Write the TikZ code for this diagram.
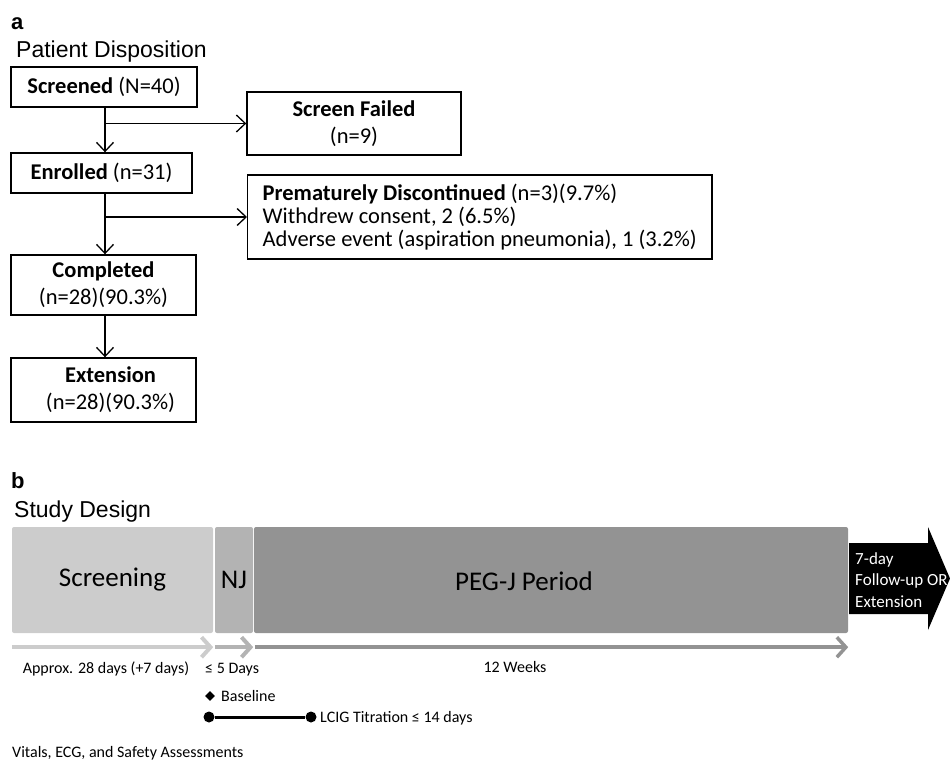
\documentclass[tikz,border=0pt]{standalone}
\usepackage{fontspec}
\setmainfont{Carlito}
\newfontfamily\arialfont{Liberation Sans}
\usetikzlibrary{arrows.meta,shapes.geometric}
\definecolor{scrgray}{HTML}{CCCCCC}
\definecolor{njgray}{HTML}{B3B3B3}
\definecolor{peggray}{HTML}{939393}
\newcommand{\boxfont}{\fontsize{22.5}{27}\selectfont}
\newcommand{\bandfont}{\fontsize{27}{30}\selectfont}
\newcommand{\smallfont}{\fontsize{16}{19}\selectfont}
\begin{document}
\begin{tikzpicture}[x=1pt,y=-1pt,
  box/.style={draw, line width=1.4pt, inner sep=0pt, font=\boxfont, align=center},
  flow/.style={line width=1.3pt, -{Straight Barb[length=9pt,width=17pt,line width=1.3pt]}},
  band/.style={inner sep=0pt, rounded corners=2pt, font=\bandfont},
  gline/.style={line width=4pt, -{Straight Barb[length=9pt,width=20pt]}},
  small/.style={font=\smallfont, inner sep=0pt},
  panel/.style={inner sep=0pt, font={\arialfont\bfseries\fontsize{22}{26}\selectfont}},
  title/.style={inner sep=0pt, font={\arialfont\fontsize{23}{27}\selectfont}},
]
\useasboundingbox (0,0) rectangle (950,760);

% ---------- panel a ----------
\node[panel, anchor=base west] (la) at (11,30) {a};
\node[title, anchor=base west] (pdt) at (16,58) {Patient Disposition};

\node[box, minimum width=186, minimum height=40] (scr) at (104,87) {\textbf{Screened} (N=40)};
\node[box, minimum width=214, minimum height=63] (sf) at (354,123.5) {\textbf{Screen Failed}\\(n=9)};
\node[box, minimum width=181, minimum height=40] (enr) at (101.5,173) {\textbf{Enrolled} (n=31)};
\node[box, minimum height=84, inner xsep=15pt, align=left, anchor=west,
      font=\fontsize{22.5}{23}\selectfont] (pdc) at (247,217)
  {\textbf{Prematurely Discontinued} (n=3)(9.7\%)\\Withdrew consent, 2 (6.5\%)\\Adverse event (aspiration pneumonia), 1 (3.2\%)};
\node[box, minimum width=185, minimum height=60] (comp) at (103.5,285) {\textbf{Completed}\\(n=28)(90.3\%)};
\node[box, minimum width=185, minimum height=64] (ext) at (103.5,390)
  {\hspace*{14pt}\textbf{Extension}\\\hspace*{14pt}(n=28)(90.3\%)};

\coordinate (vx) at (105,0);
\draw[flow] (vx |- scr.south) -- (vx |- enr.north);
\draw[flow] (vx |- sf.west) -- (sf.west);
\draw[flow] (vx |- enr.south) -- (vx |- comp.north);
\draw[flow] (vx |- pdc.west) -- (pdc.west);
\draw[flow] (vx |- comp.south) -- (vx |- ext.north);

% ---------- panel b ----------
\node[panel, anchor=base west] (lb) at (11,488) {b};
\node[title, anchor=base west] (sdt) at (14,517) {Study Design};

\node[band, fill=scrgray, minimum width=201, minimum height=106] (scrn) at (112.5,580) {Screening};
\node[band, fill=njgray, minimum width=38, minimum height=106] (nj) at (234,580) {NJ};
\node[band, fill=peggray, minimum width=594, minimum height=106] (peg) at (551,580) {};
\node[font=\bandfont, inner sep=0pt] (pegt) at (524,581) {PEG-J Period};

\fill (849,543) -- (928,543) -- (928,527) -- (950,578.5) -- (928,630) -- (928,614) -- (849,614) -- cycle;
\node[anchor=west, text=white, align=left, inner sep=0pt, font=\fontsize{17}{21.5}\selectfont] (fu) at (855,580)
  {7-day\\Follow-up OR\\Extension};

\draw[gline, draw=scrgray] ([yshift=-14pt]scrn.south west) -- ([yshift=-14pt]scrn.south east);
\draw[gline, draw=njgray] ([yshift=-14pt]nj.south west) -- ([yshift=-14pt]nj.south east);
\draw[gline, draw=peggray, line width=3.5pt] ([yshift=-14pt,xshift=1pt]peg.south west) -- ([yshift=-14pt]peg.south east);

\node[small, anchor=base] (l1) at (106,673) {Approx. 28 days (+7 days)};
\node[small, anchor=base west] (l2) at (205,673) {≤ 5 Days};
\node[small, anchor=base] (l3) at (515,672) {12 Weeks};

\node[diamond, fill=black, inner sep=0pt, minimum size=10pt] (dm) at (210,696) {};
\node[small, anchor=base west] (bl) at (221,701) {Baseline};

\node[circle, fill=black, minimum size=11pt, inner sep=0pt] (t1) at (209,717) {};
\node[circle, fill=black, minimum size=11pt, inner sep=0pt] (t2) at (311,717) {};
\draw[line width=3pt] (t1) -- (t2);
\node[small, anchor=base west] (lt) at (320,722) {LCIG Titration ≤ 14 days};

\node[small, anchor=base west] (vit) at (12,757) {Vitals, ECG, and Safety Assessments};
\end{tikzpicture}
\end{document}
